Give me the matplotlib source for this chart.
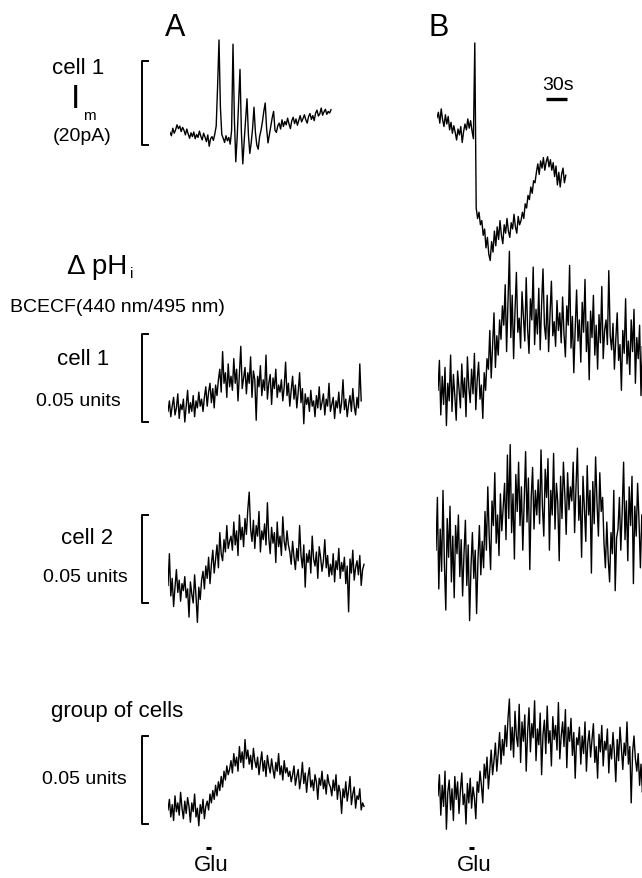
"""
Glutamate-evoked membrane current and intracellular pH traces (panels A and B)
"""
import matplotlib

matplotlib.use("Agg")
import matplotlib.pyplot as plt
import numpy as np


W, H = 642, 879
DT = 2.0            # sampling interval, s
PX_PER_S = 0.7      # 30 s -> 21 px
PX_PER_PA = 4.2     # 20 pA bracket
PX_PER_MPH = 1.76   # 0.05 pH units bracket (values below in milli pH units)

# membrane current, pA
im_a = [3.0, 2.2, 4.0, 2.8, 3.6, 4.8, 3.9, 4.5, 3.2, 4.2, 3.5, 2.4, 3.8, 2.6, 1.6, 2.9, 2.0, 3.1, 1.5, 2.5,
        1.8, 3.3, 2.1, 1.2, 2.8, 1.9, 0.8, 2.4,
        -0.3, 1.5, 2.0, 1.1, 2.6, 4.5, 14.0, 25.0, 9.0, 2.5, 1.6, 0.6, 2.2, 1.0, 1.8, 0.2, 3.5, 24.0, 6.0,
        -4.0, 2.0, 10.0, 18.0, 3.0, -4.5, 1.0, 6.0, 11.0, 2.5, -2.0, 0.5, 4.0, 9.0, 3.0, 0.0, -1.0, 2.0, 3.5,
        5.5, 8.0, 10.0, 4.0, 0.5, 2.5, 4.5, 6.5, 8.0, 3.5,
        3.0, 4.6, 5.2, 3.8, 6.0, 4.4, 5.6, 4.8, 6.4, 5.0, 3.9, 5.8, 6.6, 5.1, 6.2, 4.7, 5.9, 7.0, 5.5, 6.3,
        7.2, 6.0, 5.2, 6.8, 7.5, 6.1, 7.0, 5.8, 7.6, 8.3, 6.9, 7.4, 8.8, 7.1, 7.9, 8.5, 7.3, 8.0, 7.6, 8.4]
im_b = [6.5, 7.8, 5.2, 8.6, 6.0, 4.4, 7.2, 5.0, 6.8, 3.6, 5.4, 2.8, 4.6, 3.0, 1.2, 3.8, 2.4, 4.4, 0.6, 3.2,
        5.0, 3.6, 6.2, 4.0, 5.8, 3.4, 1.5,
        24.3, -15.0, -17.5, -16.0, -19.0, -18.0, -21.5, -20.0, -24.5, -22.0, -26.0, -27.5,
        -23.0, -25.5, -20.5, -24.0, -19.5, -22.5, -18.0, -21.5, -23.5, -19.0, -21.0, -17.5, -20.5, -22.0,
        -18.5, -20.0, -16.5, -19.5, -21.0, -17.0, -19.0, -18.0,
        -16.0, -17.5, -14.0, -15.0, -12.0, -13.0, -10.0, -11.5, -8.5, -9.0,
        -6.5, -4.5, -7.0, -3.8, -5.5, -3.0, -6.0, -4.0, -2.8, -5.2, -3.5, -6.0, -4.2,
        -7.5, -5.0, -9.5, -6.5, -10.0, -7.0, -5.5, -9.0, -7.2]

# delta pHi, milli pH units
ph_cell1_a = [6, 12, 3, 9, 14, 4, 8, 16, 2, 10, 7, 13, 0, 9, 18, 5, 11, 6, 15, 3, 12, 8, 17, 9, 13, 6,
              14, 20, 9, 17, 22, 11, 19, 8, 21, 15,
              24, 30, 17, 40, 22, 28, 14, 33, 20,
              26, 18, 36, 22, 30, 12, 27, 43, 19, 25, 31, 16, 28, 22, 37, 14, 29, 24, 1, 26,
              20, 32, 15, 24, 18, 38, 13, 22, 27, 10, 25, 19, 30, 14, 21, 17,
              24, 12, 20, 34, 15, 22, 9, 18, 26, 13, 21, 8, 17, 28, 11, 19, -1, 16,
              10, 14, 6, 18, 9, 12, 3, 15, 8, 20, 7, 11, 16, 4, 13, 9, 22, 6, 10, 14,
              2, 12, 8, 17, 5, 11, 24, 7, 13, 3, 10, 15, 6, 19, 9, 4, 14, 8, 33, 12]
ph_cell1_b = [18, 35, 4, 26, 10, 31, -2, 22, 12, 38, 6, 27, 15, 1, 29, 19, 8,
              33, 14, 25, 3, 37, 20, 11, 30, 16, 39, 7, 24, 34, 13, 21, 2, 28, 18, 36,
              30, 52, 25, 44, 62, 31, 49, 38, 58, 47, 66,
              55, 78, 40, 68, 97, 48, 72, 36, 63, 85, 51, 59, 42, 74,
              60, 46, 82, 53, 39, 70, 58, 88, 44, 64, 50, 76, 41, 67, 87, 55, 47, 72, 40, 61,
              80, 49, 57, 43, 69, 52, 62, 45, 71,
              50, 37, 66, 55, 89, 42, 60, 28, 53, 75, 46, 58, 34, 68, 51, 81, 40, 57, 24, 63,
              48, 72, 38, 55, 30, 61, 45, 77, 36, 52, 58, 44, 86, 49,
              41, 56, 30, 47, 62, 35, 44, 18, 52, 39, 70, 33, 46, 27, 58, 40, 64, 22, 48, 36,
              55, 15, 43, 37]
ph_cell2_a = [10, 28, 4, 14, -2, 9, 19, 6, 13, 1, 11, 7, 15,
              3, 8, -8, 12, 5, 0, 16, 4, -11, 9, 2, 13,
              18, 8, 21, 14, 26, 11, 22, 30, 17, 25, 33, 20, 40, 28, 24, 36, 29, 44, 31, 35,
              38, 30, 46, 33, 41, 27, 50, 36, 43, 32, 48, 39, 53, 63, 42, 35, 47, 31, 44, 38,
              52, 29, 41, 36, 45, 33, 57, 37, 28, 43, 34, 40, 23, 46, 32, 38, 27, 49, 35, 30, 41, 33,
              29, 22, 35, 26, 19, 31, 24, 44, 27, 20, 33, 9, 28, 23, 30, 17, 38, 25, 21, 29,
              14, 32, 26, 18, 24, 36, 20, 27, 15,
              22, 16, 28, 12, 24, 19, 31, 14, 23, 18, 26, 11, 21, -5, 25, 17, 30, 13, 20, 24,
              16, 27, 10, 19, 22]
ph_cell2_b = [30, 60, 8, 42, 18, 64, 22, -4, 48, 26, 55, 12, 38, 3, 44, 28, 50, 15,
              36, 4, 28, 47, 10, 33, -10, 21, 40, 14, 30, -6, 25, 44, 16, 35, 20,
              52, 30, 66, 38, 19, 58, 44, 74, 34, 50, 27, 62, 41, 55,
              68, 36, 84, 48, 90, 40, 62, 25, 73, 52, 80, 44, 66, 30, 58, 86, 46, 71, 19, 60,
              77, 42, 64, 50,
              70, 45, 87, 55, 38, 76, 60, 82, 30, 64, 50, 85, 42, 68, 57, 24, 72, 48, 80, 62,
              39, 74, 53, 66,
              58, 80, 40, 66, 88, 47, 61, 26, 72, 54, 35, 78, 50, 64, 17, 69, 45, 83, 57, 38,
              74, 52, 60,
              34, 20, 46, 25, 12, 40, 28, 64, 7, 37,
              42, 60, 30, 52, 80, 36, 58, 24, 66, 44, 72, 11, 55, 38, 68, 47, 20, 50]
ph_group_a = [8, 14, 4, 11, 2, 16, 7, 12, 5, 18, 9, 3, 13, 6, 15, 10, 1, 12, 7, 17, 4, 9, -1, 11, 6, 14, 3, 10,
              13, 8, 17, 12, 19, 14, 22, 16, 24, 19, 27, 21, 30, 25, 33, 28, 31,
              36, 29, 40, 33, 38, 30, 44, 35, 41, 32, 48, 37, 42, 34, 39, 31, 43, 36,
              32, 38, 28, 35, 41, 30, 36, 27, 39, 33, 29, 37, 31, 26, 35, 30, 40, 28, 33, 25,
              36, 29, 32, 27,
              30, 24, 28, 33, 22, 27, 31, 20, 26, 35, 23, 29, 18, 27, 32, 21, 25, 19, 28, 24,
              14, 26, 22, 30, 20, 25, 17, 28, 23,
              21, 16, 25, 19, 28, 14, 22, 18, 6, 20, 15, 24, 13, 19, 27, 11, 17, 21, 9, 16,
              14, 20, 8, 12, 10]
ph_group_b = [16, 28, 5, 22, 10, 30, -3, 18, 25, 8, 20, 2, 27, 14, 24, 6, 19, 29, 11, 17,
              0, 23, 12, 26, 9, 21, 15, 3, 24,
              18, 30, 22, 12, 34, 26, 38, 20, 31, 42, 28, 36, 46, 30, 40, 52, 34, 48, 39, 56, 44,
              60, 71, 42, 55, 38, 64, 50, 44, 68, 35, 58, 47, 62, 30, 52, 66, 41, 57, 49, 70,
              36, 54, 45, 63, 28, 51, 59, 40, 67, 46, 53, 33, 61, 48, 56, 42, 69, 37, 50, 58,
              44, 65, 32, 55, 47, 60, 39, 52, 26, 49,
              45, 55, 34, 50, 40, 58, 30, 46, 53, 38, 48, 57, 35, 44, 26, 51, 41, 56, 33, 47,
              42, 54, 29, 45, 37, 52, 40, 24, 48, 36, 55, 43, 31, 46, 39, 58, 34, 44, 12, 41,
              50, 37,
              30, 40, 22, 34, 18, 25]

SCALE_PA = 20
SCALE_PH = 50
GLU_A, GLU_B = 55, 44   # s after start of pH recording
GLU_LEN = 7

plt.rcParams["font.family"] = ["Liberation Sans", "DejaVu Sans"]
fig = plt.figure(figsize=(W / 100, H / 100), dpi=100)


def panel(left, zero, ppu):
    """Transparent axes starting at pixel column `left`, value 0 at pixel row `zero`."""
    ax = fig.add_axes([left / W, 0, 1 - left / W, 1])
    ax.set_xlim(0, (W - left) / PX_PER_S)
    ax.set_ylim(-(H - zero) / ppu, zero / ppu)
    ax.axis("off")
    ax.patch.set_visible(False)
    return ax


def trace(ax, values):
    t = np.arange(len(values)) * DT
    ax.plot(t, values, color="black", lw=1.0)


def bracket(ax, left, size, ppu):
    x = (142 - left) / PX_PER_S
    tick = 6 / PX_PER_S
    ax.plot([x + tick, x, x, x + tick], [size, size, 0, 0], color="black", lw=1.4, clip_on=False)


def label(x, y, s, size, **kw):
    fig.text(x / W, 1 - y / H, s, fontsize=size, ha=kw.pop("ha", "center"), va="center", **kw)


rows = [
    # left_a, left_b, zero px, px per unit, A trace, B trace, scale
    (170, 437, 146, PX_PER_PA, im_a, im_b, SCALE_PA),
    (168, 438, 423, PX_PER_MPH, ph_cell1_a, ph_cell1_b, SCALE_PH),
    (168, 436, 604, PX_PER_MPH, ph_cell2_a, ph_cell2_b, SCALE_PH),
    (168, 438, 825, PX_PER_MPH, ph_group_a, ph_group_b, SCALE_PH),
]

axes = []
for left_a, left_b, zero, ppu, ya, yb, scale in rows:
    ax_a = panel(left_a, zero, ppu)
    ax_b = panel(left_b, zero, ppu)
    trace(ax_a, ya)
    trace(ax_b, yb)
    bracket(ax_a, left_a, scale, ppu)
    axes.append((ax_a, ax_b))

# 30 s time bar
ax_im_b = axes[0][1]
t_bar = (546 - 437) / PX_PER_S
ax_im_b.plot([t_bar, t_bar + 30], [11, 11], color="black", lw=2.4, solid_capstyle="butt")

# glutamate application marks
glu_y = -24 / PX_PER_MPH
axes[3][0].plot([GLU_A, GLU_A + GLU_LEN], [glu_y, glu_y], color="black", lw=2.2,
                solid_capstyle="butt", clip_on=False)
axes[3][1].plot([GLU_B, GLU_B + GLU_LEN], [glu_y, glu_y], color="black", lw=2.2,
                solid_capstyle="butt", clip_on=False)

label(175, 28, "A", 22)
label(439, 28, "B", 22)
label(78, 68, "cell 1", 16)
label(76, 100, "I", 24)
label(89, 116, "m", 11)
label(82, 137, "(20pA)", 14)
label(558, 85, "30s", 14)

label(67, 267, "\u0394 pH", 20, ha="left")
label(132, 274, "i", 11)
label(10, 307, "BCECF(440 nm/495 nm)", 14, ha="left")

label(83, 360, "cell 1", 16)
label(78, 402, "0.05 units", 14)
label(87, 538, "cell 2", 16)
label(85, 577, "0.05 units", 14)
label(117, 712, "group of cells", 16)
label(84, 780, "0.05 units", 14)

label(211, 866, "Glu", 16)
label(474, 866, "Glu", 16)

fig.savefig("out.png", dpi=100)
